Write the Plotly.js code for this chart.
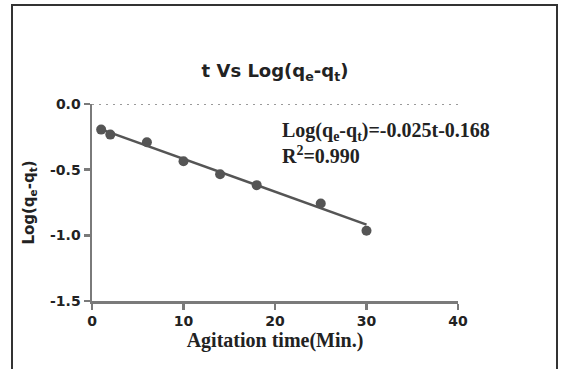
<!DOCTYPE html>
<html>
<head>
<meta charset="utf-8">
<script src="https://cdn.plot.ly/plotly-3.0.1.min.js"></script>
<style>html,body{margin:0;padding:0;background:#fff;}#chart{width:561px;height:369px;}</style>
</head>
<body>
<div id="chart"></div>
<script>
// Data
const timeMin = [1, 2, 6, 10, 14, 18, 25, 30];
const logQeQt = [-0.195, -0.233, -0.291, -0.436, -0.535, -0.618, -0.758, -0.965];
const fitSlope = -0.025;
const fitIntercept = -0.168;
const fitRange = [1, 30];
const xTicks = [0, 10, 20, 30, 40];
const yTicks = [0, -0.5, -1.0, -1.5];
const yTickLabels = ['0.0', '-0.5', '-1.0', '-1.5'];
const equationText = 'Log(q<sub>e</sub>-q<sub>t</sub>)=-0.025t-0.168<br>R<sup>2</sup>=0.990';

const fitX = fitRange.slice();
const fitY = fitX.map(t => fitSlope * t + fitIntercept);

const axisColor = '#7a7a7a';
const markColor = '#555555';
const SANS = 'DejaVu Sans';
const SERIF = 'Liberation Serif';

const traces = [
  {x: fitX, y: fitY, mode: 'lines', line: {color: markColor, width: 2.5}, hoverinfo: 'skip', cliponaxis: false},
  {x: timeMin, y: logQeQt, mode: 'markers', marker: {color: markColor, size: 10}, cliponaxis: false}
];

const L = 92, R = 103, T = 104, B = 68;
const W = 561 - L - R, H = 369 - T - B;
const px = v => (v - L) / W;
const py = v => (369 - B - v) / H;

const layout = {
  width: 561, height: 369,
  margin: {l: L, r: R, t: T, b: B},
  paper_bgcolor: '#fff', plot_bgcolor: '#fff',
  showlegend: false,
  title: {
    text: 't Vs Log(q<sub>e</sub>-q<sub>t</sub>)',
    font: {family: SANS, size: 18, color: '#222', weight: 'bold'},
    xref: 'paper', x: 0.5, xanchor: 'center',
    yref: 'container', y: 1 - 71 / 369, yanchor: 'middle'
  },
  xaxis: {
    range: [0, 40], tickvals: xTicks, ticktext: xTicks.map(String),
    showgrid: false, zeroline: false, showline: true, linecolor: axisColor, linewidth: 2.5,
    ticks: 'outside', ticklen: 6, tickwidth: 2.5, tickcolor: axisColor,
    tickfont: {family: SANS, size: 14, color: '#222', weight: 'bold'},
    title: {text: 'Agitation time(Min.)', standoff: 4,
      font: {family: SERIF, size: 20, color: '#222', weight: 'bold'}}
  },
  yaxis: {
    range: [-1.5, 0], tickvals: yTicks, ticktext: yTickLabels,
    showgrid: false, zeroline: false, showline: true, linecolor: axisColor, linewidth: 2.5,
    ticks: 'outside', ticklen: 6, tickwidth: 2.5, tickcolor: axisColor,
    tickfont: {family: SANS, size: 14, color: '#222', weight: 'bold'},
    title: {text: 'Log(q<sub>e</sub>-q<sub>t</sub>)', standoff: 12,
      font: {family: SANS, size: 15, color: '#222', weight: 'bold'}}
  },
  shapes: [
    {type: 'line', xref: 'paper', yref: 'y', x0: 0, x1: px(461), y0: 0, y1: 0,
     line: {color: '#9a9a9a', width: 2, dash: '2px,5px'}},
    {type: 'rect', xref: 'paper', yref: 'paper', x0: px(12), x1: px(557), y0: py(380), y1: py(5),
     line: {color: '#333', width: 2}, fillcolor: 'rgba(0,0,0,0)', layer: 'below'}
  ],
  annotations: [
    {xref: 'paper', yref: 'paper', x: px(280), y: py(143), xanchor: 'left', yanchor: 'middle',
     align: 'left', showarrow: false, text: equationText,
     font: {family: SERIF, size: 20, color: '#222', weight: 'bold'}}
  ]
};

Plotly.newPlot('chart', traces, layout, {displayModeBar: false, staticPlot: true});
</script>
</body>
</html>
